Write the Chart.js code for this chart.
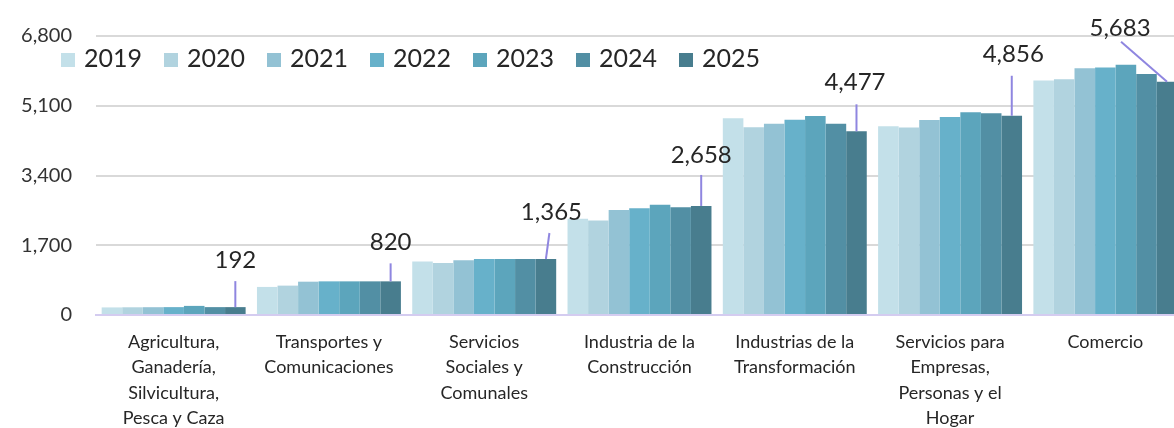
<!DOCTYPE html>
<html lang="es">
<head>
    <meta charset="UTF-8">
    <title>Sectores por año</title>
    <script src="https://cdn.jsdelivr.net/npm/chart.js"></script>
    <style>
        html, body { margin: 0; padding: 0; background: #fff; overflow: hidden; }
        .chart-box { position: relative; width: 1183px; height: 428px; }
    </style>
</head>
<body>
<div class="chart-box"><canvas id="sector-chart"></canvas></div>

<script>
    // --- datos ---
    const categories = [
        ['Agricultura,', 'Ganadería,', 'Silvicultura,', 'Pesca y Caza'],
        ['Transportes y', 'Comunicaciones'],
        ['Servicios', 'Sociales y', 'Comunales'],
        ['Industria de la', 'Construcción'],
        ['Industrias de la', 'Transformación'],
        ['Servicios para', 'Empresas,', 'Personas y el', 'Hogar'],
        ['Comercio']
    ];
    const years = ['2019', '2020', '2021', '2022', '2023', '2024', '2025'];

    const v2019 = [185, 684, 1301, 2346, 4797, 4600, 5715];
    const v2020 = [188, 716, 1269, 2306, 4573, 4568, 5747];
    const v2021 = [190, 812, 1333, 2562, 4661, 4752, 6011];
    const v2022 = [192, 820, 1365, 2602, 4757, 4824, 6035];
    const v2023 = [222, 820, 1365, 2690, 4853, 4944, 6099];
    const v2024 = [192, 820, 1365, 2626, 4661, 4920, 5875];
    const v2025 = [192, 820, 1365, 2658, 4477, 4856, 5683];

    const yTicks = [0, 1700, 3400, 5100, 6800];

    // --- estilos ---
    const yearColors = ['#c3e0e9', '#b1d3df', '#93c2d4', '#67b1ca', '#5ca5bc', '#528fa4', '#487d8e'];
    const FONT = 'Lato, "Open Sans", sans-serif';
    const TEXT = '#262626';
    const LEADER = '#8f86e0';
    // desplazamiento de etiqueta [dx texto, dy texto, dx línea arriba, dy línea arriba]
    const labelOffsets = [
        [0, -47, 0, -26],
        [0, -39, 0, -18],
        [5.5, -47, 3.5, -26],
        [0, -51, 0, -31],
        [-1.5, -49, 0, -27],
        [1.5, -61, 0, -40],
        [-47, -54, -46, -40]
    ];

    const series = [v2019, v2020, v2021, v2022, v2023, v2024, v2025];

    // leyenda dibujada dentro del área del gráfico
    const insideLegend = {
        id: 'insideLegend',
        afterDraw(chart) {
            const ctx = chart.ctx;
            ctx.save();
            ctx.font = '25px ' + FONT;
            ctx.textBaseline = 'alphabetic';
            let x = 61;
            chart.data.datasets.forEach(ds => {
                ctx.fillStyle = ds.backgroundColor;
                ctx.fillRect(x, 53, 14, 14);
                ctx.fillStyle = TEXT;
                ctx.fillText(ds.label, x + 23, 67);
                x += 23 + ctx.measureText(ds.label).width + 22;
            });
            ctx.restore();
        }
    };

    // etiquetas de valor de 2025 con línea guía
    const lastLabels = {
        id: 'lastLabels',
        afterDatasetsDraw(chart) {
            const ctx = chart.ctx;
            const idx = chart.data.datasets.length - 1;
            const meta = chart.getDatasetMeta(idx);
            const values = chart.data.datasets[idx].data;
            ctx.save();
            ctx.font = '24px ' + FONT;
            ctx.textAlign = 'center';
            ctx.textBaseline = 'middle';
            meta.data.forEach((bar, i) => {
                const off = labelOffsets[i];
                ctx.strokeStyle = LEADER;
                ctx.lineWidth = 2;
                ctx.beginPath();
                ctx.moveTo(bar.x + off[2], bar.y + off[3]);
                ctx.lineTo(bar.x, bar.y);
                ctx.stroke();
                ctx.fillStyle = TEXT;
                ctx.fillText(values[i].toLocaleString('en-US'), bar.x + off[0], bar.y + off[1]);
            });
            ctx.restore();
        }
    };

    new Chart(document.getElementById('sector-chart'), {
        type: 'bar',
        data: {
            labels: categories,
            datasets: years.map((y, i) => ({
                label: y,
                data: series[i],
                backgroundColor: yearColors[i],
                borderWidth: 0,
                categoryPercentage: 0.927,
                barPercentage: 1.0
            }))
        },
        options: {
            responsive: true,
            maintainAspectRatio: false,
            animation: false,
            layout: { padding: { top: 31, left: 0, right: 0, bottom: 0 } },
            plugins: { legend: { display: false }, tooltip: { enabled: false } },
            scales: {
                x: {
                    grid: { display: false, drawTicks: false },
                    border: { display: true, color: '#d4ccf0', width: 2 },
                    ticks: {
                        color: TEXT, font: { family: FONT, size: 18, lineHeight: 1.42 },
                        padding: 14, maxRotation: 0, autoSkip: false
                    },
                    afterFit: s => { s.height = 113; }
                },
                y: {
                    min: 0, max: 6800,
                    afterBuildTicks: s => { s.ticks = yTicks.map(v => ({ value: v })); },
                    grid: {
                        drawTicks: false, lineWidth: 2,
                        color: c => c.tick && c.tick.value === 0 ? '#d4ccf0' : '#d9d9d9'
                    },
                    border: { display: false },
                    ticks: {
                        color: '#333333', font: { family: FONT, size: 20 }, padding: 24,
                        callback: v => v.toLocaleString('en-US')
                    },
                    afterFit: s => { s.width = 96; }
                }
            }
        },
        plugins: [insideLegend, lastLabels]
    });
</script>
</body>
</html>
